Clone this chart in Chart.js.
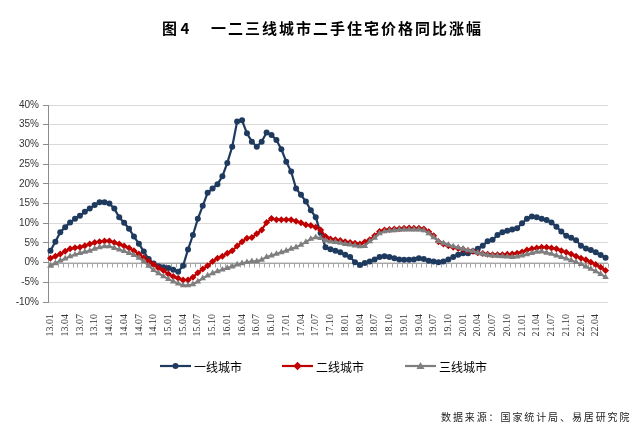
<!DOCTYPE html>
<html>
<head>
<meta charset="utf-8">
<script src="https://cdn.jsdelivr.net/npm/chart.js@4.4.1/dist/chart.umd.min.js"></script>
<style>
body { margin: 0; background: #fff; }
#wrap { position: relative; width: 633px; height: 439px; font-family: "Noto Sans CJK SC", sans-serif; color: #000; }
#chart { position: absolute; left: 0; top: 0; }
.title { position: absolute; top: 18px; font-size: 15px; font-weight: bold; line-height: 20px; white-space: nowrap; }
.leg { position: absolute; top: 357px; height: 18px; display: flex; align-items: center; font-size: 12px; white-space: nowrap; }
.leg svg { margin-right: 3px; }
.source { position: absolute; left: 441px; top: 409px; font-size: 10px; letter-spacing: 1.9px; line-height: 16px; white-space: nowrap; color: #222; }
</style>
</head>
<body>
<div id="wrap">
  <canvas id="chart" width="633" height="439"></canvas>
  <div class="title" style="left:162px;">图 4</div>
  <div class="title" style="left:211px; letter-spacing:2px;">一二三线城市二手住宅价格同比涨幅</div>
  <div class="leg" style="left:160px;">
    <svg width="31" height="10"><line x1="0" y1="5" x2="31" y2="5" stroke="#1f3a5f" stroke-width="2.2"/><circle cx="15.5" cy="5" r="3" fill="#1f3a5f"/></svg>一线城市
  </div>
  <div class="leg" style="left:282px;">
    <svg width="31" height="10"><line x1="0" y1="5" x2="31" y2="5" stroke="#c00000" stroke-width="2.2"/><rect x="12.5" y="2" width="6" height="6" fill="#c00000" transform="rotate(45 15.5 5)"/></svg>二线城市
  </div>
  <div class="leg" style="left:405px;">
    <svg width="31" height="10"><line x1="0" y1="5" x2="31" y2="5" stroke="#7f7f7f" stroke-width="2.2"/><polygon points="15.5,1 19.5,8 11.5,8" fill="#7f7f7f"/></svg>三线城市
  </div>
  <div class="source">数据来源：国家统计局、易居研究院</div>
</div>
<script>
// categories: monthly, 2013.01 - 2022.06
const months = [
  '13.01','13.02','13.03','13.04','13.05','13.06','13.07','13.08','13.09','13.10','13.11','13.12',
  '14.01','14.02','14.03','14.04','14.05','14.06','14.07','14.08','14.09','14.10','14.11','14.12',
  '15.01','15.02','15.03','15.04','15.05','15.06','15.07','15.08','15.09','15.10','15.11','15.12',
  '16.01','16.02','16.03','16.04','16.05','16.06','16.07','16.08','16.09','16.10','16.11','16.12',
  '17.01','17.02','17.03','17.04','17.05','17.06','17.07','17.08','17.09','17.10','17.11','17.12',
  '18.01','18.02','18.03','18.04','18.05','18.06','18.07','18.08','18.09','18.10','18.11','18.12',
  '19.01','19.02','19.03','19.04','19.05','19.06','19.07','19.08','19.09','19.10','19.11','19.12',
  '20.01','20.02','20.03','20.04','20.05','20.06','20.07','20.08','20.09','20.10','20.11','20.12',
  '21.01','21.02','21.03','21.04','21.05','21.06','21.07','21.08','21.09','21.10','21.11','21.12',
  '22.01','22.02','22.03','22.04','22.05','22.06'
];

// year-on-year change, %
const tier1 = [
  3.0, 5.3, 7.7, 9.0, 10.2, 11.1, 11.9, 12.9, 13.7, 14.6, 15.3, 15.3,
  15.0, 13.7, 11.5, 10.1, 8.6, 6.6, 4.8, 2.8, 0.9, -0.2, -0.9, -1.2,
  -1.4, -1.8, -2.3, -0.8, 3.3, 7.0, 11.1, 14.4, 17.7, 18.8, 19.9, 21.9,
  25.3, 29.4, 35.8, 36.1, 32.8, 30.7, 29.4, 30.7, 33.0, 32.4, 31.1, 28.8,
  25.6, 23.1, 18.8, 17.2, 15.5, 13.3, 11.5, 7.5, 3.9, 3.4, 3.0, 2.6,
  2.0, 1.4, 0.1, -0.6, -0.1, 0.3, 0.8, 1.4, 1.6, 1.4, 1.1, 0.8,
  0.7, 0.7, 0.8, 1.1, 0.9, 0.5, 0.3, 0.1, 0.3, 0.8, 1.4, 2.0,
  2.4, 2.4, 2.9, 3.5, 4.3, 5.4, 5.8, 7.0, 7.7, 8.1, 8.4, 8.7,
  10.0, 11.1, 11.7, 11.5, 11.1, 10.8, 10.2, 9.1, 7.9, 6.8, 6.3, 5.7,
  4.3, 3.6, 3.2, 2.6, 1.9, 1.2
];
const tier2 = [
  1.1, 1.6, 2.2, 2.9, 3.5, 3.8, 3.9, 4.3, 4.7, 5.1, 5.3, 5.5,
  5.5, 5.1, 4.7, 4.2, 3.7, 3.0, 2.2, 1.2, 0.3, -0.5, -1.4, -2.0,
  -2.9, -3.5, -4.0, -4.4, -4.4, -3.7, -2.6, -1.6, -0.8, 0.3, 1.1, 1.6,
  2.4, 3.0, 4.2, 5.3, 6.2, 6.4, 7.3, 8.3, 10.2, 11.2, 10.9, 10.9,
  10.9, 10.9, 10.5, 10.1, 9.6, 9.4, 9.0, 8.3, 6.6, 6.0, 5.8, 5.6,
  5.3, 5.1, 4.9, 4.7, 5.2, 5.8, 6.8, 7.9, 8.3, 8.4, 8.5, 8.6,
  8.7, 8.8, 8.7, 8.7, 8.5, 7.8, 6.8, 5.3, 4.7, 4.3, 3.9, 3.6,
  3.4, 3.0, 2.9, 2.5, 2.3, 2.1, 2.0, 2.0, 2.0, 2.1, 2.2, 2.4,
  2.7, 3.2, 3.5, 3.7, 3.9, 3.9, 3.7, 3.5, 3.0, 2.6, 2.2, 1.6,
  1.1, 0.7, 0.1, -0.5, -1.2, -2.0
];
const tier3 = [
  -0.8, -0.2, 0.5, 1.0, 1.6, 2.0, 2.4, 2.7, 3.0, 3.5, 3.9, 4.1,
  4.1, 3.7, 3.3, 2.9, 2.4, 1.9, 1.2, 0.3, -0.8, -1.9, -2.7, -3.5,
  -4.2, -4.8, -5.3, -5.8, -5.8, -5.5, -4.8, -4.0, -3.3, -2.7, -2.2, -1.8,
  -1.4, -1.0, -0.5, -0.2, 0.1, 0.3, 0.3, 0.7, 1.4, 1.8, 2.2, 2.6,
  3.0, 3.5, 3.9, 4.5, 5.2, 6.0, 6.4, 6.2, 5.6, 5.3, 5.2, 5.0,
  4.7, 4.6, 4.3, 4.1, 4.2, 5.4, 6.3, 7.4, 7.9, 8.1, 8.2, 8.3,
  8.4, 8.4, 8.4, 8.4, 8.2, 7.4, 6.4, 5.4, 4.9, 4.5, 4.1, 3.8,
  3.5, 3.1, 2.9, 2.5, 2.2, 1.9, 1.8, 1.7, 1.6, 1.5, 1.4, 1.5,
  1.8, 2.1, 2.4, 2.7, 2.8, 2.5, 2.2, 1.8, 1.4, 1.0, 0.6, 0.1,
  -0.4, -1.0, -1.6, -2.2, -2.9, -3.7
];

const yMin = -10, yMax = 40, yStep = 5;

// Excel-style category axis sitting on the 0% line, with tick marks between months
const zeroAxis = {
  id: 'zeroAxis',
  beforeDatasetsDraw(chart) {
    const { ctx, chartArea, scales } = chart;
    const x = scales.x, y0 = Math.round(scales.y.getPixelForValue(0)) + 0.5;
    ctx.save();
    ctx.strokeStyle = '#a6a6a6';
    ctx.lineWidth = 1;
    ctx.beginPath();
    ctx.moveTo(chartArea.left, y0);
    ctx.lineTo(chartArea.right, y0);
    for (let i = 0; i <= months.length; i++) {
      let px;
      if (i === 0) px = chartArea.left;
      else if (i === months.length) px = chartArea.right;
      else px = (x.getPixelForValue(i - 1) + x.getPixelForValue(i)) / 2;
      px = Math.round(px) + 0.5;
      ctx.moveTo(px, y0);
      ctx.lineTo(px, y0 + 4);
    }
    ctx.stroke();
    ctx.restore();
  }
};

new Chart(document.getElementById('chart'), {
  type: 'line',
  data: {
    labels: months,
    datasets: [
      {
        label: '一线城市', data: tier1, order: 2,
        borderColor: '#1f3a5f', backgroundColor: '#1f3a5f', borderWidth: 2.2,
        pointStyle: 'circle', pointRadius: 3, pointBorderWidth: 0
      },
      {
        label: '二线城市', data: tier2, order: 1,
        borderColor: '#c00000', backgroundColor: '#c00000', borderWidth: 2.2,
        pointStyle: 'rectRot', pointRadius: 3.5, pointBorderWidth: 0
      },
      {
        label: '三线城市', data: tier3, order: 0,
        borderColor: '#7f7f7f', backgroundColor: '#7f7f7f', borderWidth: 2.2,
        pointStyle: 'triangle', pointRadius: 3.8, pointBorderWidth: 0
      }
    ]
  },
  options: {
    responsive: false,
    animation: false,
    layout: { padding: { left: 0, right: 25, top: 105, bottom: 97 } },
    plugins: { legend: { display: false }, tooltip: { enabled: false } },
    scales: {
      x: {
        offset: true,
        grid: { display: false, drawTicks: false },
        border: { display: false },
        afterFit(scale) { scale.height = 40; },
        ticks: {
          autoSkip: false, minRotation: 90, maxRotation: 90, padding: 12,
          color: '#333', font: { family: 'Liberation Serif', size: 10 },
          callback: (v, i) => (i % 3 === 0 ? months[i] : '')
        }
      },
      y: {
        min: yMin, max: yMax,
        afterFit(scale) { scale.width = 48; },
        grid: { color: '#d9d9d9', tickColor: '#8c8c8c', tickLength: 5, lineWidth: 1 },
        border: { display: true, color: '#8c8c8c' },
        ticks: {
          stepSize: yStep, padding: 4, color: '#333',
          font: { family: 'Liberation Sans', size: 10 },
          callback: v => v + '%'
        }
      }
    }
  },
  plugins: [zeroAxis]
});
</script>
</body>
</html>
